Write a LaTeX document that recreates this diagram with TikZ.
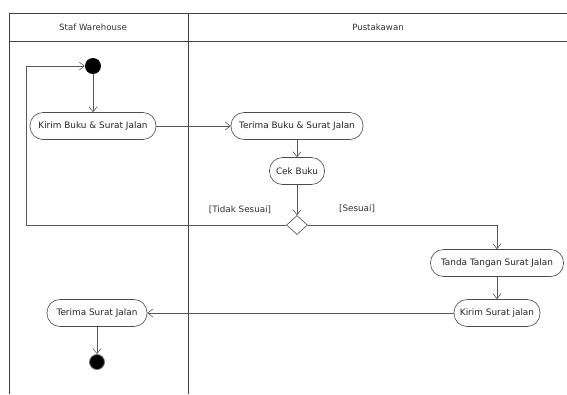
\documentclass[tikz,border=0pt]{standalone}
\usepackage{fontspec}
\setmainfont{DejaVu Sans}
\usetikzlibrary{arrows.meta,shapes.geometric}
\begin{document}
\begin{tikzpicture}[x=1pt,y=-1pt,
  lane/.style={draw=black!75,line width=0.9pt},
  action/.style={draw=black!70,line width=0.6pt,rectangle,rounded corners=13pt,
    minimum height=27pt,inner sep=0pt,font=\fontsize{8.9}{10}\selectfont,text=black!85},
  flow/.style={draw=black!65,line width=0.6pt,-{Straight Barb[length=5pt,width=8pt,line width=0.6pt]}},
  guard/.style={font=\fontsize{8.8}{9}\selectfont,text=black!80,inner sep=1pt},
  header/.style={font=\fontsize{8.6}{9}\selectfont,text=black!80},
  startnode/.style={circle,fill=black,minimum size=16pt,inner sep=0pt},
  endnode/.style={circle,fill=black,draw=black!55,line width=0.8pt,minimum size=15pt,inner sep=0pt},
  choice/.style={diamond,draw=black!70,line width=0.6pt,fill=white,minimum width=21pt,minimum height=19pt,inner sep=0pt}]
\useasboundingbox (0,0) rectangle (567,394);
\fill[white] (0,0) rectangle (567,394);

% swimlanes
\draw[lane] (9,394) -- (9,13) -- (567,13);
\draw[lane] (9,41) -- (567,41);
\draw[lane] (188,13) -- (188,394);
\node[header] (laneA) at (93,27) {Staf Warehouse};
\node[header] (laneB) at (378,27) {Pustakawan};

% activity nodes
\node[startnode] (start) at (93,66) {};
\node[action,minimum width=126pt] (kirim) at (93,126) {Kirim Buku \& Surat Jalan};
\node[action,minimum width=132pt] (terima) at (297,126) {Terima Buku \& Surat Jalan};
\node[action,minimum width=55pt] (cek) at (297,171) {Cek Buku};
\node[choice] (dec) at (297,225) {};
\node[action,minimum width=133pt] (tanda) at (497,263) {Tanda Tangan Surat Jalan};
\node[action,minimum width=86pt] (kirimsj) at (497,313) {Kirim Surat jalan};
\node[action,minimum width=100pt] (terimasj) at (97,313) {Terima Surat Jalan};
\node[endnode] (stop) at (97,362) {};

% guards
\node[guard] (gno) at (240,210) {[Tidak Sesuai]};
\node[guard] (gyes) at (357,209) {[Sesuai]};

% loop-back corners
\coordinate (lb1) at (26,225);
\coordinate (lb2) at (26,66);
\coordinate (rt1) at (497,225);

% flows
\draw[flow] (start) -- (kirim);
\draw[flow] (kirim) -- (terima);
\draw[flow] (terima) -- (cek);
\draw[flow] (cek) -- (dec);
\draw[flow] (dec.west) -- (lb1) -- (lb2) -- (start);
\draw[flow] (dec.east) -- (rt1) -- (tanda);
\draw[flow] (tanda) -- (kirimsj);
\draw[flow] (kirimsj) -- (terimasj);
\draw[flow] (terimasj) -- (stop);
\end{tikzpicture}
\end{document}
